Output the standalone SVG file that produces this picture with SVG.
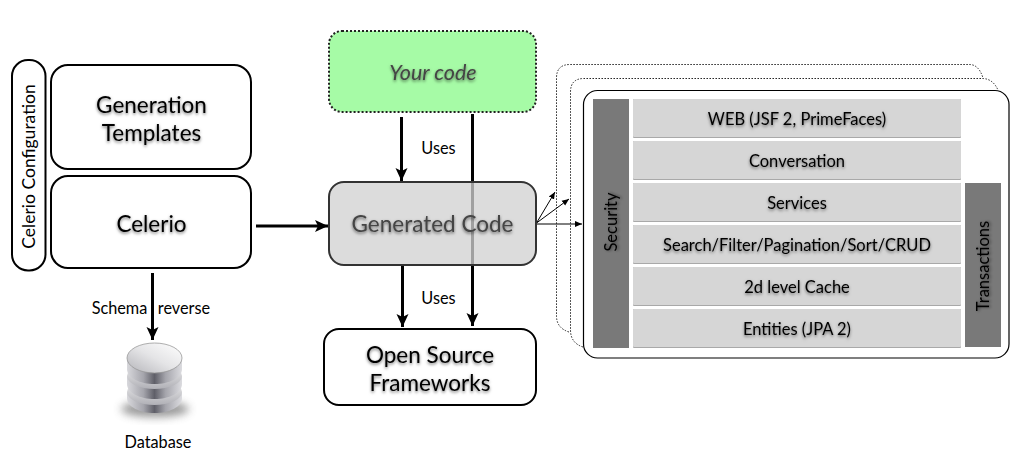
<svg xmlns="http://www.w3.org/2000/svg" width="1015" height="471" viewBox="0 0 1015 471">
<style>
text{font-family:"Lato","Open Sans","Liberation Sans",sans-serif;text-anchor:middle;fill:#000}
.box{fill:#fff;stroke:#000;stroke-width:2}
.big{font-size:22.500px;filter:url(#ts)}
.sm{font-size:16.300px}
.lay{font-size:16.500px;filter:url(#ts)}
.layer{fill:#d6d6d6}
.edge{fill:#a9a9a9}
.bar{fill:#797979}
.thick{stroke:#000;stroke-width:3;fill:none}
.thin{stroke:#000;stroke-width:1;fill:none}
.dot{fill:none;stroke:#222;stroke-width:1;stroke-dasharray:1.5 1.5}
</style>
<defs>
<filter id="ts" x="-20%" y="-40%" width="140%" height="190%"><feDropShadow dx="0" dy="1.5" stdDeviation="1.5" flood-color="#000" flood-opacity=".55"/></filter>
<filter id="blur" x="-30%" y="-50%" width="160%" height="200%"><feGaussianBlur stdDeviation="4"/></filter>
<marker id="ah" markerUnits="userSpaceOnUse" markerWidth="14" markerHeight="14" refX="13" refY="7" orient="auto"><path d="M0 1 L13 7 L0 13 L3 7Z" fill="#000"/></marker>
<marker id="as" markerUnits="userSpaceOnUse" markerWidth="8" markerHeight="8" refX="7" refY="4" orient="auto"><path d="M0 1 L7 4 L0 7Z" fill="#000"/></marker>
<linearGradient id="cyl" x1="0" x2="1" y1="0" y2="0"><stop offset="0" stop-color="#d8d8dc"/><stop offset=".3" stop-color="#a5a5ac"/><stop offset=".5" stop-color="#5f5f68"/><stop offset=".7" stop-color="#a5a5ac"/><stop offset="1" stop-color="#dcdce0"/></linearGradient>
<linearGradient id="rim" x1="0" x2="0" y1="0" y2="1"><stop offset="0" stop-color="#f4f4f4"/><stop offset="1" stop-color="#b0b0b6"/></linearGradient>
<linearGradient id="top" x1="1" x2="0" y1="0" y2="1"><stop offset="0" stop-color="#fff"/><stop offset=".5" stop-color="#e4e4e6"/><stop offset="1" stop-color="#b4b4b9"/></linearGradient>
</defs>

<g id="connectors">
<path class="thick" d="M256 226H328" marker-end="url(#ah)"/>
<path class="thick" d="M401.500 117V181" marker-end="url(#ah)"/>
<path class="thick" d="M472.500 114V326" marker-end="url(#ah)"/>
<path class="thick" d="M402.500 265V327" marker-end="url(#ah)"/>
<path class="thick" d="M152.500 273V340" marker-end="url(#ah)"/>
<path class="thin" d="M536.500 223L555 192" marker-end="url(#as)"/>
<path class="thin" d="M536.500 223L569 199" marker-end="url(#as)"/>
<path class="thin" d="M536.500 224H582" marker-end="url(#as)"/>
</g>

<g id="celerio-config"><rect class="box" x="12" y="60" width="33.500" height="210.500" rx="16"/>
<text transform="translate(35 166.500) rotate(-90)" style="font-size:17.500px">Celerio Configuration</text></g>
<g id="generation-templates"><rect class="box" x="51" y="65" width="200" height="104" rx="17"/>
<text class="big" x="151.500" y="113">Generation</text><text class="big" x="151.500" y="141">Templates</text></g>
<g id="celerio"><rect class="box" x="51" y="176" width="200" height="92" rx="17"/>
<text class="big" x="151.500" y="232">Celerio</text></g>

<g id="schema-label"><text class="sm" x="119.500" y="314">Schema</text><text class="sm" x="184" y="314">reverse</text></g>

<g id="database">
<ellipse cx="155" cy="409" rx="34" ry="8" fill="#555" opacity=".6" filter="url(#blur)"/>
<path d="M127 392V398C127 407 140 413 154.500 413S182 407 182 398V392Z" fill="url(#cyl)"/>
<ellipse cx="154.500" cy="392" rx="27.500" ry="13" fill="url(#rim)"/>
<path d="M127 376V384C127 393 140 399 154.500 399S182 393 182 384V376Z" fill="url(#cyl)"/>
<ellipse cx="154.500" cy="376" rx="27.500" ry="13" fill="url(#rim)"/>
<path d="M127 360V369C127 378 140 384 154.500 384S182 378 182 369V360Z" fill="url(#cyl)"/>
<ellipse cx="154.500" cy="358" rx="27.500" ry="15" fill="url(#top)" stroke="#999" stroke-width=".8"/>
<text class="sm" x="158" y="448">Database</text>
</g>

<g id="your-code"><rect x="329" y="31" width="207" height="81" rx="13" fill="#a6fba6" stroke="#222" stroke-width="2" stroke-dasharray="2 2"/>
<text class="big" x="433" y="80" style="font-style:italic;fill:#444;font-size:21.500px">Your code</text></g>
<text class="sm" x="438.500" y="154">Uses</text>

<g id="generated-code"><rect x="329" y="182" width="207" height="83" rx="15" fill="#d1d1d1" fill-opacity=".765" stroke="#333" stroke-width="2"/>
<text class="big" x="432.500" y="232" style="fill:#444">Generated Code</text></g>
<text class="sm" x="438.500" y="304">Uses</text>

<g id="open-source"><rect class="box" x="324" y="329" width="212" height="76" rx="15"/>
<text class="big" x="430" y="363">Open Source</text><text class="big" x="430" y="391">Frameworks</text></g>

<g id="stack">
<path class="dot" d="M569 332Q556.500 328 556.500 316V78Q556.500 64.500 570 64.500H970Q979 65 983 78"/>
<path class="dot" d="M583 347Q570.500 343 570.500 330V92Q570.500 78.500 584 78.500H983Q993 79 998 90"/>
<rect x="583.500" y="90.500" width="425.500" height="267.500" rx="14" fill="#fff" stroke="#000" stroke-width="1.200"/>
<g id="security"><rect class="bar" x="593" y="99" width="36" height="249"/><text class="lay" transform="translate(617 222) rotate(-90)">Security</text></g>
<g id="transactions"><rect class="bar" x="965" y="183" width="36" height="164"/><text class="lay" transform="translate(989 266) rotate(-90)">Transactions</text></g>
<g id="layer-web"><rect class="edge" x="633" y="99" width="328" height="39" rx="1"/><rect class="layer" x="633" y="99" width="328" height="38" rx="1"/><text class="lay" x="797" y="125">WEB (JSF 2, PrimeFaces)</text></g>
<g id="layer-conversation"><rect class="edge" x="633" y="141" width="328" height="39" rx="1"/><rect class="layer" x="633" y="141" width="328" height="38" rx="1"/><text class="lay" x="797" y="167">Conversation</text></g>
<g id="layer-services"><rect class="edge" x="633" y="183" width="328" height="39" rx="1"/><rect class="layer" x="633" y="183" width="328" height="38" rx="1"/><text class="lay" x="797" y="209">Services</text></g>
<g id="layer-search"><rect class="edge" x="633" y="225" width="328" height="39" rx="1"/><rect class="layer" x="633" y="225" width="328" height="38" rx="1"/><text class="lay" x="797" y="251">Search/Filter/Pagination/Sort/CRUD</text></g>
<g id="layer-cache"><rect class="edge" x="633" y="267" width="328" height="39" rx="1"/><rect class="layer" x="633" y="267" width="328" height="38" rx="1"/><text class="lay" x="797" y="293">2d level Cache</text></g>
<g id="layer-entities"><rect class="edge" x="633" y="309" width="328" height="39" rx="1"/><rect class="layer" x="633" y="309" width="328" height="38" rx="1"/><text class="lay" x="797" y="335">Entities (JPA 2)</text></g>
</g>
</svg>
